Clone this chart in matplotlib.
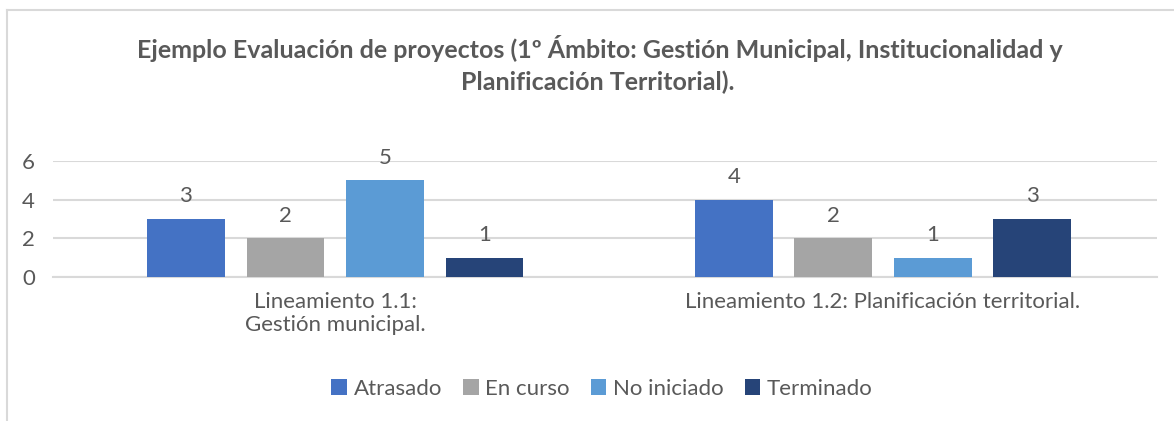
import numpy as np
import matplotlib.pyplot as plt
from matplotlib.lines import Line2D
from matplotlib.patches import Patch

plt.rcParams['font.family'] = ['Lato', 'DejaVu Sans']

categories = ['Lineamiento 1.1:\nGestión municipal.',
              'Lineamiento 1.2: Planificación territorial.']
series = ['Atrasado', 'En curso', 'No iniciado', 'Terminado']
atrasado = [3, 4]
en_curso = [2, 2]
no_iniciado = [5, 1]
terminado = [1, 3]
values = [atrasado, en_curso, no_iniciado, terminado]
colors = ['#4472C4', '#A5A5A5', '#5B9BD5', '#264478']

txt = '#595959'
grid = '#D9D9D9'

fig = plt.figure(figsize=(11.74, 4.21), dpi=100)
ax = fig.add_axes([53 / 1174, 1 - 277 / 421, (1157 - 53) / 1174, (277 - 161) / 421])

x = np.arange(len(categories))
step = 0.1816
w = 0.142
for i, (name, vals, c) in enumerate(zip(series, values, colors)):
    pos = x + (i - 1.5) * step
    bars = ax.bar(pos, vals, width=w, color=c, label=name, zorder=3)
    for b, v in zip(bars, vals):
        ax.annotate(str(v), (b.get_x() + b.get_width() / 2, v),
                    xytext=(0, 9), textcoords='offset points',
                    ha='center', va='bottom', fontsize=16, color=txt)

ax.set_xlim(-0.515, 1.5)
ax.set_ylim(0, 6)
ax.set_yticks([0, 2, 4, 6])
ax.set_xticks(x)
ax.set_xticklabels(categories, fontsize=16, color=txt, linespacing=1.2)
ax.tick_params(axis='y', labelsize=16, labelcolor=txt, length=0, pad=13)
ax.tick_params(axis='x', length=0, pad=11)
ax.grid(axis='y', color=grid, linewidth=1.5, zorder=0)
for s in ['top', 'right', 'left']:
    ax.spines[s].set_visible(False)
ax.spines['bottom'].set_color(grid)
ax.spines['bottom'].set_linewidth(1.5)
ax.set_axisbelow(True)

fig.text(600 / 1174, 1 - 48 / 421, 'Ejemplo Evaluación de proyectos (1º Ámbito: Gestión Municipal, Institucionalidad y',
         ha='center', va='center', fontsize=18, fontweight='bold', color=txt)
fig.text(598 / 1174, 1 - 82 / 421, 'Planificación Territorial).',
         ha='center', va='center', fontsize=18, fontweight='bold', color=txt)

handles = [Patch(facecolor=c, label=n) for n, c in zip(series, colors)]
fig.legend(handles=handles, loc='center', bbox_to_anchor=(602 / 1174, 1 - 389 / 421),
           ncol=4, frameon=False, fontsize=16, labelcolor=txt,
           handlelength=0.7, handleheight=0.7, handletextpad=0.3, columnspacing=0.95)

# chart frame (top and left edges visible)
fig.add_artist(Line2D([7 / 1174, 7 / 1174], [0, 1 - 10 / 421], transform=fig.transFigure,
                      color=grid, linewidth=1.5))
fig.add_artist(Line2D([7 / 1174, 1], [1 - 10 / 421, 1 - 10 / 421], transform=fig.transFigure,
                      color=grid, linewidth=1.5))

fig.savefig('out.png', dpi=100)
